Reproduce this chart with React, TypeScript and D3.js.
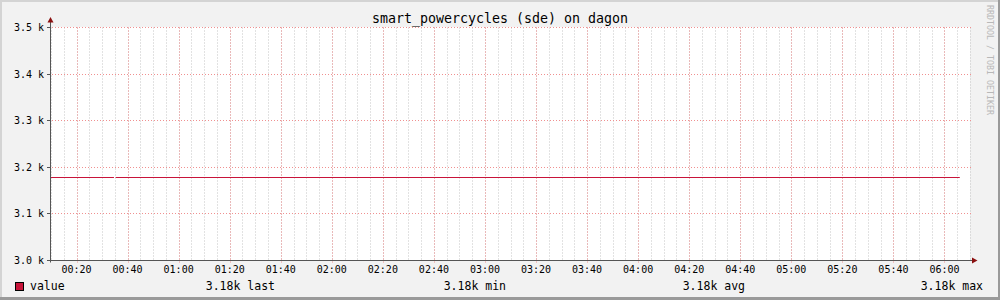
import React from "react";
import * as d3 from "d3";

const title = "smart_powercycles (sde) on dagon";
const watermark = "RRDTOOL / TOBI OETIKER";
const seriesName = "value";

// sample times (HH:MM:SS) and values; null marks the missing sample
const sampleTimes = ["00:10:00", "00:34:40", "00:35:00", "00:35:20", "06:06:00"];
const sampleValues: (number | null)[] = [3180, 3180, null, 3180, 3180];

const yTicks = [3000, 3100, 3200, 3300, 3400, 3500];
const yTickLabels = ["3.0 k", "3.1 k", "3.2 k", "3.3 k", "3.4 k", "3.5 k"];
const xTickLabels = ["00:20", "00:40", "01:00", "01:20", "01:40", "02:00", "02:20", "02:40", "03:00", "03:20", "03:40", "04:00", "04:20", "04:40", "05:00", "05:20", "05:40", "06:00"];
const xDomainLabels = ["00:10", "06:10"];
const legendStats = [
  { label: "last", value: "3.18k" },
  { label: "min", value: "3.18k" },
  { label: "avg", value: "3.18k" },
  { label: "max", value: "3.18k" },
];

const parseT = (s: string) => {
  const p = s.split(":").map(Number);
  return new Date(Date.UTC(2024, 0, 1, p[0], p[1], p[2] || 0));
};

export default function App() {
  const W = 1000, H = 300;
  const x0 = 51, x1 = 970, yTop = 27.5, yBot = 260.5;
  const x = d3.scaleUtc().domain(xDomainLabels.map(parseT)).range([x0, x1]);
  const y = d3.scaleLinear().domain([3000, 3500]).range([yBot, yTop]);
  const data = sampleTimes.map((t, i) => ({ t: parseT(t), v: sampleValues[i] }));
  const line = d3.line<{ t: Date; v: number | null }>()
    .defined(d => d.v !== null)
    .x(d => x(d.t))
    .y(d => Math.round(y(d.v as number)) + 0.5);

  const minorTicks = x.ticks(d3.utcMinute.every(5) as any);
  const majorTicks = xTickLabels.map(parseT);
  const fmt = d3.utcFormat("%H:%M");
  const mono = "DejaVu Sans Mono";
  const crimson = "#c8143a";
  const legendRight = [275, 506, 745, 983];

  return (
    <svg width={W} height={H} style={{ position: "fixed", left: 0, top: 0 }} fontFamily={mono}>
      <rect x={0} y={0} width={W} height={H} fill="#f2f2f2" />
      {/* 3D border */}
      <rect x={0} y={0} width={W} height={2} fill="#d4d4d4" />
      <rect x={0} y={0} width={2} height={H} fill="#d4d4d4" />
      <rect x={W - 2} y={0} width={2} height={H} fill="#9a9a9a" />
      <rect x={0} y={H - 3} width={W} height={3} fill="#9a9a9a" />
      {/* canvas */}
      <rect x={x0} y={yTop - 0.5} width={x1 - x0} height={yBot - yTop + 0.5} fill="#ffffff" />
      {/* minor vertical grid */}
      {minorTicks.map((t, i) => {
        const px = Math.round(x(t)) + 0.5;
        return <line key={"mv" + i} x1={px} x2={px} y1={yTop} y2={yBot} stroke="#c4c4c4" strokeDasharray="1,2" />;
      })}
      {/* major vertical grid */}
      {majorTicks.map((t, i) => {
        const px = Math.round(x(t)) + 0.5;
        return <line key={"Mv" + i} x1={px} x2={px} y1={yTop} y2={yBot + 2} stroke="#f09090" strokeDasharray="1,2" />;
      })}
      {/* horizontal grid */}
      {yTicks.map((v, i) => {
        const py = Math.round(y(v) - 0.5) + 0.5;
        return <line key={"hg" + i} x1={x0 - 2} x2={x1 + 2} y1={py} y2={py} stroke="#f09090" strokeDasharray="1,2" />;
      })}
      {/* data line */}
      <path d={line(data) || ""} fill="none" stroke={crimson} strokeWidth={1} />
      {/* axes */}
      <line x1={50.5} x2={50.5} y1={yBot + 2} y2={22} stroke="#555" />
      <line x1={47} x2={972} y1={260.5} y2={260.5} stroke="#555" />
      {yTicks.map((v, i) => {
        const py = Math.round(y(v) - 0.5) + 0.5;
        return <line key={"yt" + i} x1={47} x2={50} y1={py} y2={py} stroke="#555" />;
      })}
      <path d="M47.5,22.5 L53.5,22.5 L50.5,17 Z" fill="#8b1010" />
      <path d="M972,257.5 L972,263.5 L977.5,260.5 Z" fill="#8b1010" />
      {/* y labels */}
      {yTicks.map((v, i) => (
        <text key={"yl" + i} x={44} y={y(v)} dy="0.35em" textAnchor="end" fontSize={10} fill="#000">{yTickLabels[i]}</text>
      ))}
      {/* x labels */}
      {majorTicks.map((t, i) => (
        <text key={"xl" + i} x={x(t)} y={273} textAnchor="middle" fontSize={10} fill="#000">{fmt(t)}</text>
      ))}
      {/* title */}
      <text x={500} y={23} textAnchor="middle" fontSize={13.3} fill="#000">{title}</text>
      {/* watermark */}
      <text transform="translate(987,5) rotate(90)" fontSize={9.5} textLength={110} lengthAdjust="spacingAndGlyphs" fill="#b8b8b8">{watermark}</text>
      {/* legend */}
      <rect x={15.5} y={282.5} width={8} height={8} fill={crimson} stroke="#000" />
      <text x={30} y={290} fontSize={11.5} fill="#000">{seriesName}</text>
      {legendStats.map((s, i) => (
        <text key={"ls" + i} x={legendRight[i]} y={290} textAnchor="end" fontSize={11.5} fill="#000">{`${s.value} ${s.label}`}</text>
      ))}
    </svg>
  );
}
